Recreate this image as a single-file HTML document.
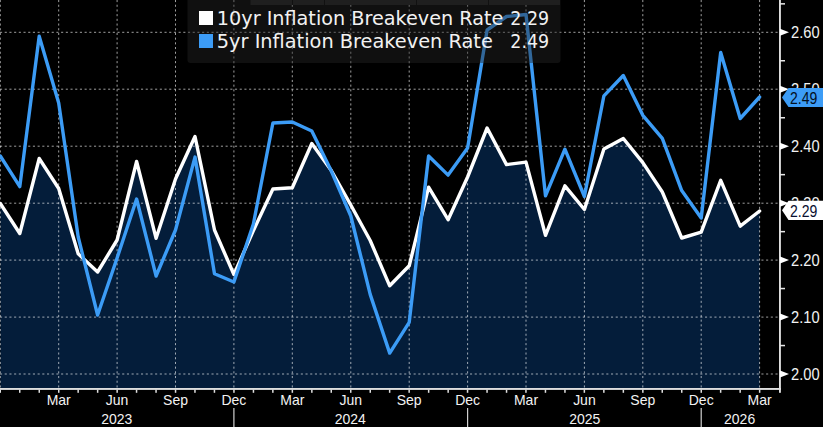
<!DOCTYPE html>
<html><head><meta charset="utf-8"><title>Inflation Breakeven Rates</title>
<style>
html,body{margin:0;padding:0;background:#000;}
body{width:823px;height:427px;overflow:hidden;position:relative;font-family:"Liberation Sans","DejaVu Sans",sans-serif;}
svg text{font-family:"Liberation Sans","DejaVu Sans",sans-serif;fill:#f2f2f2;}
.yl{font-size:14.8px;}
.xl{font-size:14px;}
.lg{font-size:19px;font-family:"DejaVu Sans","Liberation Sans",sans-serif !important;}
</style></head><body>
<svg width="823" height="427" viewBox="0 0 823 427" style="position:absolute;left:0;top:0">
<rect width="823" height="427" fill="#000"/>
<polygon points="0.3,203.5 19.8,233.5 39.2,158.5 58.7,188.5 78.2,253.8 97.6,272.0 117.1,240.0 136.6,161.5 156.1,238.3 175.5,179.0 195.0,136.5 214.5,230.0 233.9,274.5 253.4,230.5 272.9,189.0 292.3,187.7 311.8,143.5 331.3,170.5 350.8,205.0 370.2,240.5 389.7,285.8 409.2,265.8 428.6,187.2 448.1,219.7 467.6,177.0 487.1,128.0 506.5,164.6 526.0,162.1 545.5,235.3 564.9,185.8 584.4,209.5 603.9,149.0 623.3,138.5 642.8,162.6 662.3,192.0 681.7,238.0 701.2,232.2 720.7,180.3 740.2,226.2 759.6,211.0 759.6,389.5 0.3,389.5" fill="#041d3a"/>
<line x1="0" y1="32.3" x2="780" y2="32.3" stroke="#fff" stroke-opacity="0.62" stroke-width="1" stroke-dasharray="2.1 2.6"/>
<line x1="0" y1="89.2" x2="780" y2="89.2" stroke="#fff" stroke-opacity="0.62" stroke-width="1" stroke-dasharray="2.1 2.6"/>
<line x1="0" y1="146.2" x2="780" y2="146.2" stroke="#fff" stroke-opacity="0.62" stroke-width="1" stroke-dasharray="2.1 2.6"/>
<line x1="0" y1="203.2" x2="780" y2="203.2" stroke="#fff" stroke-opacity="0.62" stroke-width="1" stroke-dasharray="2.1 2.6"/>
<line x1="0" y1="260.1" x2="780" y2="260.1" stroke="#fff" stroke-opacity="0.62" stroke-width="1" stroke-dasharray="2.1 2.6"/>
<line x1="0" y1="317.1" x2="780" y2="317.1" stroke="#fff" stroke-opacity="0.62" stroke-width="1" stroke-dasharray="2.1 2.6"/>
<line x1="0" y1="374.0" x2="780" y2="374.0" stroke="#fff" stroke-opacity="0.62" stroke-width="1" stroke-dasharray="2.1 2.6"/>
<line x1="0.3" y1="0" x2="0.3" y2="389.5" stroke="#fff" stroke-opacity="0.62" stroke-width="1" stroke-dasharray="2.1 2.6"/>
<line x1="58.7" y1="0" x2="58.7" y2="389.5" stroke="#fff" stroke-opacity="0.62" stroke-width="1" stroke-dasharray="2.1 2.6"/>
<line x1="117.1" y1="0" x2="117.1" y2="389.5" stroke="#fff" stroke-opacity="0.62" stroke-width="1" stroke-dasharray="2.1 2.6"/>
<line x1="175.5" y1="0" x2="175.5" y2="389.5" stroke="#fff" stroke-opacity="0.62" stroke-width="1" stroke-dasharray="2.1 2.6"/>
<line x1="233.9" y1="0" x2="233.9" y2="389.5" stroke="#fff" stroke-opacity="0.62" stroke-width="1" stroke-dasharray="2.1 2.6"/>
<line x1="292.3" y1="0" x2="292.3" y2="389.5" stroke="#fff" stroke-opacity="0.62" stroke-width="1" stroke-dasharray="2.1 2.6"/>
<line x1="350.8" y1="0" x2="350.8" y2="389.5" stroke="#fff" stroke-opacity="0.62" stroke-width="1" stroke-dasharray="2.1 2.6"/>
<line x1="409.2" y1="0" x2="409.2" y2="389.5" stroke="#fff" stroke-opacity="0.62" stroke-width="1" stroke-dasharray="2.1 2.6"/>
<line x1="467.6" y1="0" x2="467.6" y2="389.5" stroke="#fff" stroke-opacity="0.62" stroke-width="1" stroke-dasharray="2.1 2.6"/>
<line x1="526.0" y1="0" x2="526.0" y2="389.5" stroke="#fff" stroke-opacity="0.62" stroke-width="1" stroke-dasharray="2.1 2.6"/>
<line x1="584.4" y1="0" x2="584.4" y2="389.5" stroke="#fff" stroke-opacity="0.62" stroke-width="1" stroke-dasharray="2.1 2.6"/>
<line x1="642.8" y1="0" x2="642.8" y2="389.5" stroke="#fff" stroke-opacity="0.62" stroke-width="1" stroke-dasharray="2.1 2.6"/>
<line x1="701.2" y1="0" x2="701.2" y2="389.5" stroke="#fff" stroke-opacity="0.62" stroke-width="1" stroke-dasharray="2.1 2.6"/>
<line x1="759.6" y1="0" x2="759.6" y2="389.5" stroke="#fff" stroke-opacity="0.62" stroke-width="1" stroke-dasharray="2.1 2.6"/>
<polyline points="0.3,203.5 19.8,233.5 39.2,158.5 58.7,188.5 78.2,253.8 97.6,272.0 117.1,240.0 136.6,161.5 156.1,238.3 175.5,179.0 195.0,136.5 214.5,230.0 233.9,274.5 253.4,230.5 272.9,189.0 292.3,187.7 311.8,143.5 331.3,170.5 350.8,205.0 370.2,240.5 389.7,285.8 409.2,265.8 428.6,187.2 448.1,219.7 467.6,177.0 487.1,128.0 506.5,164.6 526.0,162.1 545.5,235.3 564.9,185.8 584.4,209.5 603.9,149.0 623.3,138.5 642.8,162.6 662.3,192.0 681.7,238.0 701.2,232.2 720.7,180.3 740.2,226.2 759.6,211.0" fill="none" stroke="#fff" stroke-width="3.4" stroke-linejoin="round" stroke-linecap="round"/>
<polyline points="0.3,156.0 19.8,186.6 39.2,36.3 58.7,103.0 78.2,237.0 97.6,315.0 117.1,258.0 136.6,199.0 156.1,276.0 175.5,230.0 195.0,157.1 214.5,273.8 233.9,282.0 253.4,224.0 272.9,123.0 292.3,122.0 311.8,131.0 331.3,171.0 350.8,216.0 370.2,294.4 389.7,353.1 409.2,322.4 428.6,156.0 448.1,175.1 467.6,148.0 487.1,30.0 506.5,16.5 526.0,14.5 545.5,195.8 564.9,149.2 584.4,196.5 603.9,95.8 623.3,75.5 642.8,115.3 662.3,138.3 681.7,190.6 701.2,218.0 720.7,52.4 740.2,118.5 759.6,97.0" fill="none" stroke="#3c9cf6" stroke-width="3.4" stroke-linejoin="round" stroke-linecap="round"/>
<rect x="0" y="388.0" width="781" height="1.9" fill="#dedede"/>
<rect x="779" y="0" width="1.9" height="392.8" fill="#dedede"/>
<polygon points="780,28.8 789,32.3 780,35.8" fill="#fff"/>
<text transform="translate(791,38.2) scale(1,1.1)" textLength="28.6" lengthAdjust="spacingAndGlyphs" class="yl">2.60</text>
<polygon points="780,85.8 789,89.2 780,92.8" fill="#fff"/>
<text transform="translate(791,95.2) scale(1,1.1)" textLength="28.6" lengthAdjust="spacingAndGlyphs" class="yl">2.50</text>
<polygon points="780,142.7 789,146.2 780,149.7" fill="#fff"/>
<text transform="translate(791,152.1) scale(1,1.1)" textLength="28.6" lengthAdjust="spacingAndGlyphs" class="yl">2.40</text>
<polygon points="780,199.7 789,203.2 780,206.7" fill="#fff"/>
<text transform="translate(791,209.1) scale(1,1.1)" textLength="28.6" lengthAdjust="spacingAndGlyphs" class="yl">2.30</text>
<polygon points="780,256.6 789,260.1 780,263.6" fill="#fff"/>
<text transform="translate(791,266.0) scale(1,1.1)" textLength="28.6" lengthAdjust="spacingAndGlyphs" class="yl">2.20</text>
<polygon points="780,313.6 789,317.1 780,320.6" fill="#fff"/>
<text transform="translate(791,322.9) scale(1,1.1)" textLength="28.6" lengthAdjust="spacingAndGlyphs" class="yl">2.10</text>
<polygon points="780,370.5 789,374.0 780,377.5" fill="#fff"/>
<text transform="translate(791,379.9) scale(1,1.1)" textLength="28.6" lengthAdjust="spacingAndGlyphs" class="yl">2.00</text>
<rect x="780" y="3.1" width="5" height="1.5" fill="#e6e6e6"/>
<rect x="780" y="60.0" width="5" height="1.5" fill="#e6e6e6"/>
<rect x="780" y="117.0" width="5" height="1.5" fill="#e6e6e6"/>
<rect x="780" y="173.9" width="5" height="1.5" fill="#e6e6e6"/>
<rect x="780" y="230.9" width="5" height="1.5" fill="#e6e6e6"/>
<rect x="780" y="287.8" width="5" height="1.5" fill="#e6e6e6"/>
<rect x="780" y="344.8" width="5" height="1.5" fill="#e6e6e6"/>
<rect x="-0.5" y="389.5" width="1.5" height="3.3" fill="#dedede"/>
<rect x="19.0" y="389.5" width="1.5" height="3.3" fill="#dedede"/>
<rect x="38.5" y="389.5" width="1.5" height="3.3" fill="#dedede"/>
<rect x="58.0" y="389.5" width="1.5" height="3.3" fill="#dedede"/>
<rect x="77.4" y="389.5" width="1.5" height="3.3" fill="#dedede"/>
<rect x="96.9" y="389.5" width="1.5" height="3.3" fill="#dedede"/>
<rect x="116.4" y="389.5" width="1.5" height="3.3" fill="#dedede"/>
<rect x="135.8" y="389.5" width="1.5" height="3.3" fill="#dedede"/>
<rect x="155.3" y="389.5" width="1.5" height="3.3" fill="#dedede"/>
<rect x="174.8" y="389.5" width="1.5" height="3.3" fill="#dedede"/>
<rect x="194.2" y="389.5" width="1.5" height="3.3" fill="#dedede"/>
<rect x="213.7" y="389.5" width="1.5" height="3.3" fill="#dedede"/>
<rect x="233.2" y="389.5" width="1.5" height="3.3" fill="#dedede"/>
<rect x="252.7" y="389.5" width="1.5" height="3.3" fill="#dedede"/>
<rect x="272.1" y="389.5" width="1.5" height="3.3" fill="#dedede"/>
<rect x="291.6" y="389.5" width="1.5" height="3.3" fill="#dedede"/>
<rect x="311.1" y="389.5" width="1.5" height="3.3" fill="#dedede"/>
<rect x="330.5" y="389.5" width="1.5" height="3.3" fill="#dedede"/>
<rect x="350.0" y="389.5" width="1.5" height="3.3" fill="#dedede"/>
<rect x="369.5" y="389.5" width="1.5" height="3.3" fill="#dedede"/>
<rect x="388.9" y="389.5" width="1.5" height="3.3" fill="#dedede"/>
<rect x="408.4" y="389.5" width="1.5" height="3.3" fill="#dedede"/>
<rect x="427.9" y="389.5" width="1.5" height="3.3" fill="#dedede"/>
<rect x="447.4" y="389.5" width="1.5" height="3.3" fill="#dedede"/>
<rect x="466.8" y="389.5" width="1.5" height="3.3" fill="#dedede"/>
<rect x="486.3" y="389.5" width="1.5" height="3.3" fill="#dedede"/>
<rect x="505.8" y="389.5" width="1.5" height="3.3" fill="#dedede"/>
<rect x="525.2" y="389.5" width="1.5" height="3.3" fill="#dedede"/>
<rect x="544.7" y="389.5" width="1.5" height="3.3" fill="#dedede"/>
<rect x="564.2" y="389.5" width="1.5" height="3.3" fill="#dedede"/>
<rect x="583.6" y="389.5" width="1.5" height="3.3" fill="#dedede"/>
<rect x="603.1" y="389.5" width="1.5" height="3.3" fill="#dedede"/>
<rect x="622.6" y="389.5" width="1.5" height="3.3" fill="#dedede"/>
<rect x="642.1" y="389.5" width="1.5" height="3.3" fill="#dedede"/>
<rect x="661.5" y="389.5" width="1.5" height="3.3" fill="#dedede"/>
<rect x="681.0" y="389.5" width="1.5" height="3.3" fill="#dedede"/>
<rect x="700.5" y="389.5" width="1.5" height="3.3" fill="#dedede"/>
<rect x="719.9" y="389.5" width="1.5" height="3.3" fill="#dedede"/>
<rect x="739.4" y="389.5" width="1.5" height="3.3" fill="#dedede"/>
<rect x="758.9" y="389.5" width="1.5" height="3.3" fill="#dedede"/>
<text transform="translate(58.7,405.2) scale(1,1.07)" class="xl" text-anchor="middle">Mar</text>
<text transform="translate(117.1,405.2) scale(1,1.07)" class="xl" text-anchor="middle">Jun</text>
<text transform="translate(175.5,405.2) scale(1,1.07)" class="xl" text-anchor="middle">Sep</text>
<text transform="translate(233.9,405.2) scale(1,1.07)" class="xl" text-anchor="middle">Dec</text>
<text transform="translate(292.3,405.2) scale(1,1.07)" class="xl" text-anchor="middle">Mar</text>
<text transform="translate(350.8,405.2) scale(1,1.07)" class="xl" text-anchor="middle">Jun</text>
<text transform="translate(409.2,405.2) scale(1,1.07)" class="xl" text-anchor="middle">Sep</text>
<text transform="translate(467.6,405.2) scale(1,1.07)" class="xl" text-anchor="middle">Dec</text>
<text transform="translate(526.0,405.2) scale(1,1.07)" class="xl" text-anchor="middle">Mar</text>
<text transform="translate(584.4,405.2) scale(1,1.07)" class="xl" text-anchor="middle">Jun</text>
<text transform="translate(642.8,405.2) scale(1,1.07)" class="xl" text-anchor="middle">Sep</text>
<text transform="translate(701.2,405.2) scale(1,1.07)" class="xl" text-anchor="middle">Dec</text>
<text transform="translate(759.6,405.2) scale(1,1.07)" class="xl" text-anchor="middle">Mar</text>
<rect x="233.3" y="408" width="1.2" height="20" fill="#d0d0d0"/>
<rect x="467.0" y="408" width="1.2" height="20" fill="#d0d0d0"/>
<rect x="700.6" y="408" width="1.2" height="20" fill="#d0d0d0"/>
<text transform="translate(116.8,423.5) scale(1,1.07)" class="xl" text-anchor="middle">2023</text>
<text transform="translate(350.3,423.5) scale(1,1.07)" class="xl" text-anchor="middle">2024</text>
<text transform="translate(584.8,423.5) scale(1,1.07)" class="xl" text-anchor="middle">2025</text>
<text transform="translate(739.6,423.5) scale(1,1.07)" class="xl" text-anchor="middle">2026</text>
<polygon points="782,97.5 788.5,87.9 823,87.9 823,107.1 788.5,107.1" fill="#3c9cf6"/>
<text transform="translate(790,103.9) scale(1,1.1)" textLength="27.3" lengthAdjust="spacingAndGlyphs" class="yl" style="fill:#03101f">2.49</text>
<polygon points="782,210.3 788.5,200.70000000000002 823,200.70000000000002 823,219.9 788.5,219.9" fill="#ffffff"/>
<text transform="translate(790,216.7) scale(1,1.1)" textLength="27.3" lengthAdjust="spacingAndGlyphs" class="yl" style="fill:#0a1030">2.29</text>
<rect x="187.5" y="-4" width="373" height="67" rx="3" fill="#252525" fill-opacity="0.44"/>
<rect x="250.5" y="0" width="309.5" height="5" fill="#1f1f1f"/>
<rect x="292" y="0" width="1" height="5" fill="#111"/>
<rect x="324" y="0" width="1" height="5" fill="#111"/>
<rect x="416" y="0" width="1" height="5" fill="#111"/>
<rect x="488" y="0" width="1" height="5" fill="#111"/>
<rect x="199" y="11" width="14" height="14" fill="#fff"/>
<rect x="199" y="34" width="14" height="14" fill="#3c9cf6"/>
<g transform="scale(1,1.05)">
<text x="216.8" y="24.29" class="lg" textLength="286.6" lengthAdjust="spacingAndGlyphs">10yr Inflation Breakeven Rate</text>
<text x="510.3" y="24.29" class="lg" textLength="38.8" lengthAdjust="spacingAndGlyphs">2.29</text>
<text x="216.8" y="46.19" class="lg" textLength="276" lengthAdjust="spacingAndGlyphs">5yr Inflation Breakeven Rate</text>
<text x="510.3" y="46.19" class="lg" textLength="38.8" lengthAdjust="spacingAndGlyphs">2.49</text>
</g>
</svg>
</body></html>
